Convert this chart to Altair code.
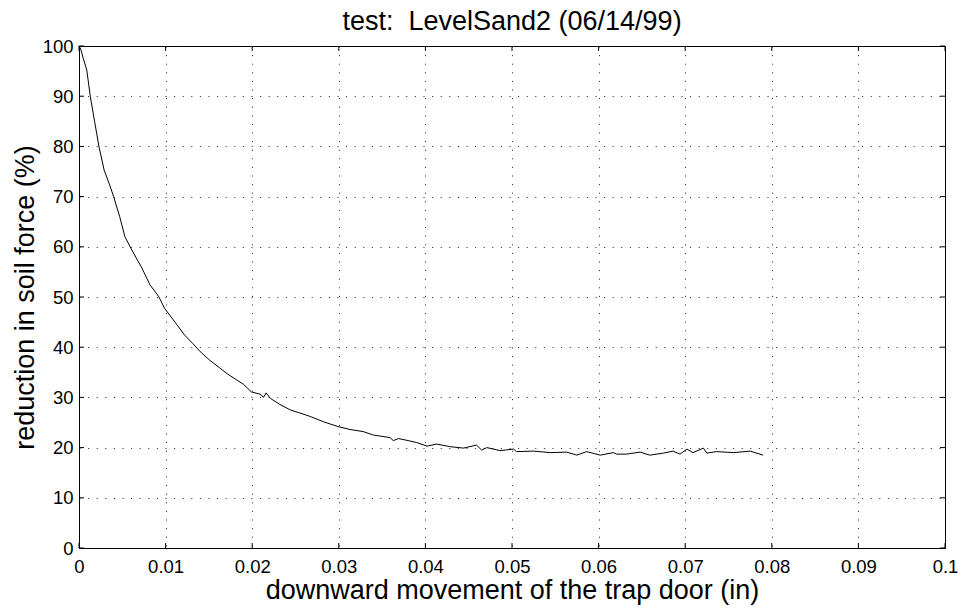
import altair as alt
import pandas as pd

# downward movement (in) and reduction in soil force (%)
movement = [
    0.0, 0.0002, 0.0005, 0.0009, 0.0013, 0.0018, 0.0023, 0.0029, 0.0035, 0.0040,
    0.0047, 0.0053, 0.0060, 0.0066, 0.0072, 0.0082, 0.0092, 0.0099, 0.0110, 0.0122,
    0.0131, 0.0140, 0.0151, 0.0163, 0.0172, 0.0182, 0.0190, 0.0199, 0.0210, 0.0213,
    0.0216, 0.0221, 0.0232, 0.0244, 0.0255, 0.0267, 0.0283, 0.0299, 0.0313, 0.0328,
    0.0340, 0.0359, 0.0363, 0.0369, 0.0380, 0.0390, 0.0402, 0.0413, 0.0428, 0.0444,
    0.0459, 0.0465, 0.0471, 0.0486, 0.0502, 0.0505, 0.0525, 0.0544, 0.0563, 0.0575,
    0.0586, 0.0602, 0.0617, 0.0621, 0.0632, 0.0648, 0.0659, 0.0675, 0.0686, 0.0694,
    0.0702, 0.0709, 0.0721, 0.0725, 0.0736, 0.0756, 0.0775, 0.0790,
]
reduction = [
    100.0, 99.4, 97.5, 95.2, 90.0, 85.0, 80.0, 75.3, 72.5, 70.0,
    66.0, 62.0, 59.7, 57.8, 56.0, 52.4, 50.1, 47.7, 45.2, 42.4,
    40.8, 39.1, 37.4, 35.8, 34.6, 33.5, 32.6, 31.1, 30.6, 30.0,
    30.9, 29.8, 28.6, 27.5, 26.9, 26.2, 25.1, 24.2, 23.6, 23.2,
    22.5, 22.0, 21.4, 21.8, 21.4, 21.0, 20.3, 20.7, 20.2, 19.9,
    20.5, 19.5, 20.0, 19.4, 19.7, 19.2, 19.3, 19.0, 19.1, 18.5,
    19.2, 18.5, 19.0, 18.7, 18.7, 19.1, 18.5, 18.9, 19.3, 18.7,
    19.7, 19.0, 19.9, 18.9, 19.2, 19.0, 19.3, 18.5,
]

x_ticks = [0, 0.01, 0.02, 0.03, 0.04, 0.05, 0.06, 0.07, 0.08, 0.09, 0.1]
y_ticks = [0, 10, 20, 30, 40, 50, 60, 70, 80, 90, 100]

W, H = 866, 502
FONT = "Liberation Sans"

df = pd.DataFrame({"x": movement, "y": reduction})
xt = pd.DataFrame({"t": x_ticks})
yt = pd.DataFrame({"t": y_ticks})

xscale = alt.Scale(domain=[0, 0.1], nice=False, zero=False)
yscale = alt.Scale(domain=[0, 100], nice=False)

line = alt.Chart(df).mark_line(color="black", strokeWidth=1).encode(
    x=alt.X(
        "x:Q",
        scale=xscale,
        axis=alt.Axis(
            values=x_ticks,
            format="~g",
            title="downward movement of the trap door (in)",
            titleFontSize=27,
            titleFont=FONT,
            titleFontWeight="normal",
            titleColor="black",
            titleBaseline="alphabetic",
            titleY=50,
            labelFontSize=18.5,
            labelFont=FONT,
            labelColor="black",
            labelPadding=9,
            labelFlush=False,
            labelOverlap=False,
            ticks=False,
            domainColor="black",
            grid=True,
            gridColor="#222222",
            gridDash=[1, 7.6],
            gridWidth=1,
        ),
    ),
    y=alt.Y(
        "y:Q",
        scale=yscale,
        axis=alt.Axis(
            values=y_ticks,
            title="reduction in soil force (%)",
            titleFontSize=27,
            titleFont=FONT,
            titleFontWeight="normal",
            titleColor="black",
            titleBaseline="alphabetic",
            titleX=-46,
            labelFontSize=18.5,
            labelFont=FONT,
            labelColor="black",
            labelPadding=6,
            labelFlush=False,
            labelOverlap=False,
            ticks=False,
            domainColor="black",
            grid=True,
            gridColor="#222222",
            gridDash=[1, 7.6],
            gridWidth=1,
        ),
    ),
)

tick_len = 5
bottom = alt.Chart(xt).mark_rule(color="black", strokeWidth=1).encode(
    x=alt.X("t:Q", scale=xscale), y=alt.value(H), y2=alt.value(H - tick_len)
)
top = alt.Chart(xt).mark_rule(color="black", strokeWidth=1).encode(
    x=alt.X("t:Q", scale=xscale), y=alt.value(0), y2=alt.value(tick_len)
)
left = alt.Chart(yt).mark_rule(color="black", strokeWidth=1).encode(
    y=alt.Y("t:Q", scale=yscale), x=alt.value(0), x2=alt.value(tick_len)
)
right = alt.Chart(yt).mark_rule(color="black", strokeWidth=1).encode(
    y=alt.Y("t:Q", scale=yscale), x=alt.value(W), x2=alt.value(W - tick_len)
)

chart = (
    alt.layer(line, bottom, top, left, right)
    .properties(
        width=W,
        height=H,
        title=alt.TitleParams(
            text="test:\u00a0 LevelSand2 (06/14/99)",
            fontSize=27,
            font=FONT,
            fontWeight="normal",
            color="black",
            anchor="middle",
            baseline="alphabetic",
            offset=13,
            dy=33,
        ),
        autosize=alt.AutoSizeParams(type="none"),
        padding={"left": 79, "top": 46, "right": 16, "bottom": 63},
        background="white",
    )
    .configure_view(stroke="black", strokeWidth=1)
)

chart.save("out.html", embed_options={"renderer": "svg", "actions": False})
